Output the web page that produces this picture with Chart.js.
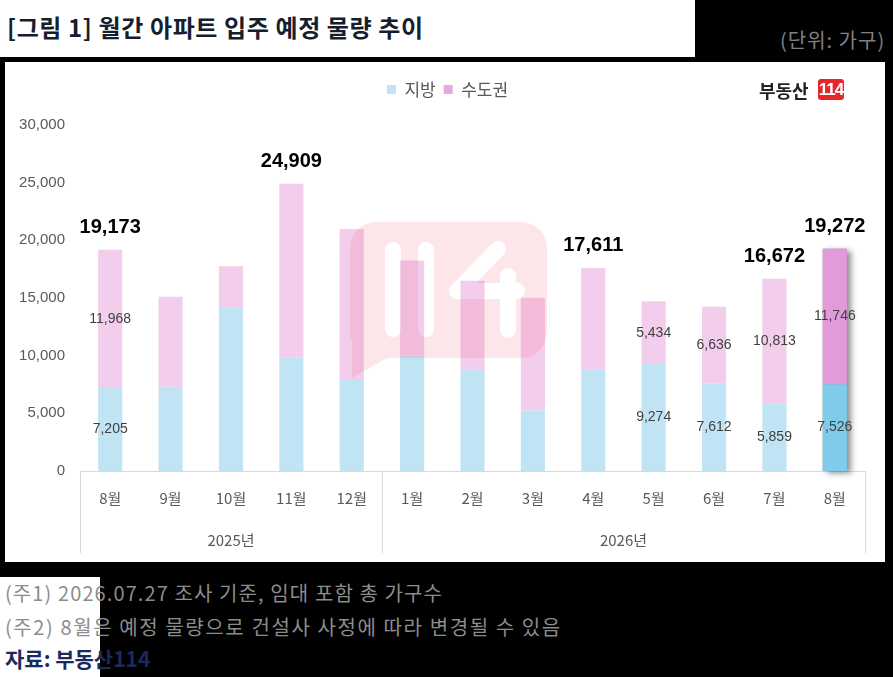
<!DOCTYPE html>
<html>
<head>
<meta charset="utf-8">
<script src="https://cdn.jsdelivr.net/npm/chart.js@4.4.1/dist/chart.umd.min.js"></script>
<style>
  body { margin: 0; width: 893px; height: 677px; background: #000; position: relative; overflow: hidden;
         font-family: "Noto Sans CJK KR", sans-serif; }
  #title { position: absolute; left: 0; top: 0; width: 695px; height: 57px; background: #fff; }
  #title span { position: absolute; left: 7px; top: 9px; font-size: 24px; font-weight: bold; color: #14202e;
                white-space: nowrap; letter-spacing: 0.6px; }
  #unit { position: absolute; left: 780px; top: 25px; font-size: 20px; color: #808080; letter-spacing: 1px; white-space: nowrap; }
  #panel { position: absolute; left: 5px; top: 62px; width: 880px; height: 500px; background: #fff; }
  #logo { position: absolute; left: 759px; top: 77px; height: 24px; }
  #logo b { position: absolute; left: 0; top: 0; font-size: 18px; color: #222; white-space: nowrap; }
  #logo i { position: absolute; left: 59px; top: 2px; width: 26px; height: 21px; background: #e5262d; border-radius: 3px;
            color: #fff; font-style: normal; font-weight: bold; font-size: 17px; line-height: 21px; text-align: center;
            font-family: "Liberation Sans Narrow", "Liberation Sans", sans-serif; letter-spacing: -1px; }
  #whitebox { position: absolute; left: 0; top: 577px; width: 100px; height: 100px; background: #fff; }
  .note { position: absolute; left: 5px; font-size: 20px; color: #8c8c8c; white-space: nowrap; }
  #src { font-weight: bold; color: #1b2a5c; font-size: 21px; }
</style>
</head>
<body>
<div id="title"><span>[그림 1] 월간 아파트 입주 예정 물량 추이</span></div>
<div id="unit">(단위: 가구)</div>
<div id="panel"><canvas id="c" width="880" height="500"></canvas></div>
<div id="logo"><b>부동산</b><i>114</i></div>
<div id="whitebox"></div>
<div class="note" style="top:578px; letter-spacing:1.1px">(주1) 2026.07.27 조사 기준, 임대 포함 총 가구수</div>
<div class="note" style="top:612px; letter-spacing:1.6px">(주2) 8월은 예정 물량으로 건설사 사정에 따라 변경될 수 있음</div>
<div class="note" id="src" style="top:643px">자료: 부동산114</div>

<script>
const months = ["8월", "9월", "10월", "11월", "12월", "1월", "2월", "3월", "4월", "5월", "6월", "7월", "8월"];
const years = ["2025년", "2026년"];
const yearSpan = [5, 8];
const local = [7205, 7300, 14200, 9850, 7890, 10000, 8810, 5240, 8810, 9274, 7612, 5859, 7526];
const capital = [11968, 7800, 3550, 15059, 13100, 8260, 7690, 9780, 8801, 5434, 6636, 10813, 11746];
const showParts = [true, false, false, false, false, false, false, false, false, true, true, true, true];
const showTotal = [true, false, false, true, false, false, false, false, true, false, false, true, true];

const fmt = v => v.toLocaleString("en-US");
const LATIN = '"Liberation Sans", "Noto Sans CJK KR", sans-serif';
const KR = '"Noto Sans CJK KR", sans-serif';

// last month (estimate) drawn darker
const localColors = local.map((v, i) => i === local.length - 1 ? "#7ecbea" : "#c1e4f4");
const capitalColors = capital.map((v, i) => i === capital.length - 1 ? "#e29ad8" : "#f2cdec");

const legendSpace = {
  id: "legendSpace",
  beforeInit(chart) {
    const fit = chart.legend.fit;
    chart.legend.fit = function () { fit.call(this); this.height = 52; };
  },
  afterLayout(chart) {
    chart.legend.left += 20; // legend sits a bit right of the canvas centre
  }
};

// soft shadow behind the last bar
const lastShadow = {
  id: "lastShadow",
  beforeDatasetsDraw(chart) {
    const i = months.length - 1;
    const a = chart.getDatasetMeta(0).data[i];
    const b = chart.getDatasetMeta(1).data[i];
    const ctx = chart.ctx;
    ctx.save();
    ctx.shadowColor = "rgba(0,0,0,0.45)";
    ctx.shadowBlur = 6;
    ctx.shadowOffsetX = 4;
    ctx.shadowOffsetY = 2;
    ctx.fillStyle = "#999";
    ctx.fillRect(b.x - b.width / 2, b.y, b.width, a.base - b.y);
    ctx.restore();
  }
};

// faint 114 watermark over the plot
const watermark = {
  id: "watermark",
  afterDatasetsDraw(chart) {
    const off = document.createElement("canvas");
    off.width = chart.width; off.height = chart.height;
    const o = off.getContext("2d");
    o.fillStyle = "#f36a83";
    o.beginPath();
    o.roundRect(345, 160, 197, 136, 26);
    o.fill();
    o.beginPath();
    o.moveTo(347, 260); o.lineTo(347, 316); o.lineTo(392, 290); o.closePath();
    o.fill();
    o.globalCompositeOperation = "destination-out";
    o.lineCap = "round"; o.lineJoin = "round"; o.lineWidth = 16;
    o.beginPath();
    o.moveTo(388, 188); o.lineTo(388, 267);
    o.moveTo(421, 188); o.lineTo(421, 267);
    o.moveTo(493, 187); o.lineTo(452, 229); o.lineTo(512, 229);
    o.moveTo(503, 214); o.lineTo(503, 268);
    o.stroke();
    const ctx = chart.ctx;
    ctx.save();
    ctx.globalAlpha = 0.17;
    ctx.drawImage(off, 0, 0);
    ctx.restore();
  }
};

const valueLabels = {
  id: "valueLabels",
  afterDatasetsDraw(chart) {
    const ctx = chart.ctx;
    const m0 = chart.getDatasetMeta(0).data;
    const m1 = chart.getDatasetMeta(1).data;
    ctx.save();
    ctx.textAlign = "center";
    ctx.textBaseline = "middle";
    months.forEach((m, i) => {
      if (showParts[i]) {
        ctx.font = "14px " + LATIN;
        ctx.fillStyle = "#404040";
        ctx.fillText(fmt(local[i]), m0[i].x, (m0[i].y + m0[i].base) / 2);
        ctx.fillText(fmt(capital[i]), m1[i].x, (m1[i].y + m1[i].base) / 2);
      }
      if (showTotal[i]) {
        ctx.font = "bold 20px " + LATIN;
        ctx.fillStyle = "#000";
        ctx.fillText(fmt(local[i] + capital[i]), m1[i].x, m1[i].y - 22);
      }
    });
    ctx.restore();
  }
};

// year row under the month labels
const yearAxis = {
  id: "yearAxis",
  afterDraw(chart) {
    const x = chart.scales.x;
    const ctx = chart.ctx;
    const w = (x.right - x.left) / months.length;
    const top = chart.chartArea.bottom;
    ctx.save();
    ctx.strokeStyle = "#d9d9d9";
    ctx.lineWidth = 1;
    ctx.fillStyle = "#595959";
    ctx.font = "15px " + KR;
    ctx.textAlign = "center";
    ctx.textBaseline = "middle";
    let k = 0;
    const edges = [0];
    yearSpan.forEach(n => { k += n; edges.push(k); });
    edges.forEach(e => {
      const px = Math.round(x.left + e * w) + 0.5;
      ctx.beginPath(); ctx.moveTo(px, top); ctx.lineTo(px, 491); ctx.stroke();
    });
    years.forEach((y, j) => {
      const cx = x.left + (edges[j] + edges[j + 1]) / 2 * w;
      ctx.fillText(y, cx, 478);
    });
    ctx.restore();
  }
};

new Chart(document.getElementById("c"), {
  type: "bar",
  data: {
    labels: months,
    datasets: [
      { label: "지방", data: local, backgroundColor: localColors },
      { label: "수도권", data: capital, backgroundColor: capitalColors }
    ]
  },
  options: {
    responsive: false,
    animation: false,
    barPercentage: 0.4,
    categoryPercentage: 1,
    layout: { padding: { left: 5, right: 20, top: 11, bottom: 0 } },
    plugins: {
      tooltip: { enabled: false },
      legend: {
        position: "top",
        labels: {
          boxWidth: 9, boxHeight: 9, padding: 8, color: "#595959",
          font: { size: 17, family: KR },
          generateLabels: chart => chart.data.datasets.map((d, i) => ({
            text: d.label, fillStyle: i === 0 ? "#c1e4f4" : "#e7a8df", strokeStyle: "transparent",
            lineWidth: 0, datasetIndex: i, fontColor: "#595959"
          }))
        }
      }
    },
    scales: {
      x: {
        stacked: true,
        grid: { display: false, drawTicks: false },
        border: { color: "#d9d9d9" },
        ticks: { color: "#595959", padding: 18, font: { size: 15, family: KR } },
        afterFit: s => { s.height = 91; }
      },
      y: {
        stacked: true,
        min: 0, max: 30000,
        grid: { display: false, drawTicks: false },
        border: { display: false },
        ticks: { stepSize: 5000, color: "#595959", padding: 15, font: { size: 15, family: LATIN }, callback: v => fmt(v) },
        afterFit: s => { s.width = 70; }
      }
    }
  },
  plugins: [legendSpace, lastShadow, watermark, valueLabels, yearAxis]
});
</script>
</body>
</html>
